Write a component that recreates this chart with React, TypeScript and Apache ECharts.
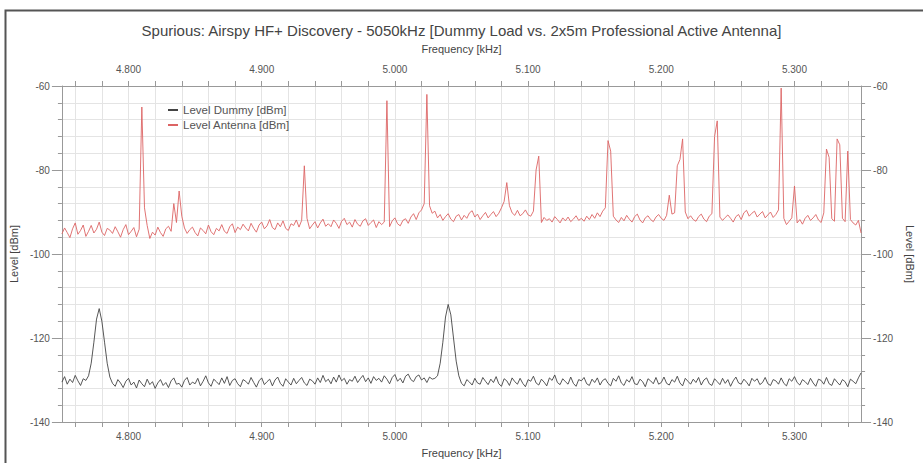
import React, { useEffect, useRef } from "react";
import * as echarts from "echarts";

const titleText = "Spurious: Airspy HF+ Discovery - 5050kHz [Dummy Load vs. 2x5m Professional Active Antenna]";
const xAxisName = "Frequency [kHz]";
const yAxisName = "Level [dBm]";
const seriesNames = ["Level Dummy [dBm]", "Level Antenna [dBm]"];

// frequency grid in MHz (displayed as kHz with thousands separator), 2 kHz step
const freqStart = 4.75;
const freqStep = 0.002;
const freqCount = 301;

const yTicks = [-140, -120, -100, -80, -60];

const antennaLevels = [
  -95.2,-93.8,-94.9,-96.1,-94.0,-92.6,-95.3,-94.4,-93.1,-95.8,
  -94.6,-93.2,-95.0,-94.1,-92.4,-94.8,-95.6,-93.9,-94.3,-95.1,
  -93.5,-94.7,-96.0,-94.2,-93.0,-95.4,-94.6,-93.7,-95.9,-94.1,
  -65.0,-89.0,-93.2,-96.3,-94.8,-95.5,-93.6,-94.9,-95.8,-94.0,
  -93.4,-94.6,-88.0,-92.5,-85.0,-91.0,-93.8,-95.1,-94.2,-93.6,
  -94.9,-95.7,-93.8,-94.4,-95.2,-93.1,-94.7,-95.4,-93.9,-94.5,
  -93.0,-94.6,-95.1,-93.5,-92.8,-94.9,-93.6,-94.2,-92.9,-93.8,
  -94.5,-92.7,-93.9,-94.8,-93.1,-92.4,-94.0,-93.3,-91.8,-93.7,
  -94.2,-92.6,-93.5,-92.1,-93.9,-94.4,-92.8,-93.2,-91.9,-93.6,
  -92.0,-79.0,-91.5,-94.0,-93.1,-92.3,-93.8,-92.6,-91.7,-93.4,
  -92.8,-93.5,-91.9,-92.7,-93.9,-92.2,-91.5,-93.0,-92.4,-93.6,
  -91.8,-92.9,-93.4,-92.1,-91.6,-93.2,-92.5,-91.9,-93.7,-92.3,
  -93.0,-92.4,-63.5,-93.5,-92.1,-91.4,-92.8,-93.3,-92.0,-91.6,
  -92.7,-91.2,-90.4,-91.8,-90.2,-89.5,-88.0,-62.0,-88.5,-90.3,
  -89.8,-91.4,-90.6,-92.0,-91.1,-90.4,-91.7,-92.3,-91.0,-90.6,
  -91.9,-90.8,-91.5,-90.2,-89.7,-91.2,-90.5,-91.8,-90.9,-90.1,
  -91.4,-90.6,-89.9,-91.1,-90.3,-89.0,-87.5,-83.0,-88.5,-90.2,
  -90.8,-89.6,-90.9,-90.4,-89.5,-90.7,-91.0,-89.8,-80.0,-76.7,
  -92.5,-91.3,-92.0,-91.6,-92.4,-91.1,-91.8,-92.6,-91.4,-92.1,
  -91.2,-92.3,-91.7,-90.9,-92.0,-91.5,-92.2,-91.0,-91.8,-90.6,
  -91.5,-90.2,-91.1,-89.8,-89.0,-73.0,-75.5,-91.0,-91.9,-92.5,
  -91.3,-92.1,-90.8,-91.7,-92.4,-91.1,-90.5,-91.9,-92.6,-91.4,
  -90.9,-91.8,-92.3,-91.2,-90.6,-91.5,-92.0,-90.8,-86.0,-90.5,
  -90.2,-79.0,-77.5,-72.6,-90.0,-91.6,-90.9,-91.8,-92.2,-91.1,
  -90.5,-91.7,-92.3,-91.0,-90.4,-72.0,-68.3,-91.2,-92.0,-91.3,
  -90.7,-91.5,-92.4,-91.1,-90.6,-91.8,-90.2,-89.6,-91.0,-90.3,
  -89.8,-91.2,-90.5,-89.9,-91.4,-90.7,-90.0,-91.3,-90.6,-89.5,
  -60.5,-91.5,-93.0,-92.2,-91.4,-83.8,-92.6,-91.8,-92.9,-91.5,
  -90.8,-92.0,-91.4,-90.6,-91.9,-92.5,-90.2,-75.0,-77.0,-91.6,
  -92.2,-72.6,-74.0,-91.5,-92.3,-75.5,-91.8,-92.6,-93.1,-92.0,
  -95.0
];

const dummyLevels = [
  -130.5,-129.2,-131.0,-129.8,-130.6,-128.9,-130.2,-131.3,-129.7,-130.1,
  -129.0,-126.0,-121.0,-115.5,-113.0,-116.0,-121.0,-126.0,-129.3,-130.8,
  -131.5,-129.9,-130.7,-131.8,-130.3,-129.6,-131.2,-130.5,-131.9,-130.0,
  -130.9,-131.6,-129.8,-131.1,-130.4,-132.0,-130.7,-129.9,-131.3,-130.6,
  -131.8,-130.2,-129.5,-131.0,-130.8,-131.7,-130.1,-129.4,-131.2,-130.5,
  -130.9,-129.6,-131.4,-130.3,-129.0,-130.7,-131.5,-129.8,-130.4,-131.1,
  -129.5,-130.8,-129.2,-131.3,-130.1,-129.7,-130.9,-131.6,-129.9,-130.3,
  -131.0,-129.4,-130.6,-131.7,-130.2,-129.5,-131.1,-130.4,-129.8,-131.4,
  -130.0,-129.3,-130.8,-131.5,-129.7,-130.5,-131.2,-129.6,-130.9,-130.1,
  -129.4,-130.7,-131.3,-129.8,-130.2,-131.0,-129.5,-130.6,-128.9,-130.4,
  -129.8,-130.9,-129.3,-130.5,-128.8,-130.2,-129.6,-131.0,-129.9,-130.3,
  -129.1,-130.6,-129.7,-128.9,-130.4,-129.5,-130.8,-129.2,-130.1,-129.6,
  -130.5,-129.0,-129.8,-130.9,-129.4,-128.7,-130.3,-129.6,-130.7,-129.1,
  -128.6,-129.9,-130.4,-129.2,-128.8,-130.0,-129.5,-130.6,-129.3,-129.8,
  -129.6,-129.0,-126.0,-121.0,-115.0,-112.0,-114.5,-120.0,-125.5,-129.0,
  -130.8,-131.4,-129.9,-130.5,-131.2,-129.6,-130.7,-131.0,-129.4,-130.3,
  -131.1,-129.8,-130.6,-129.2,-130.9,-131.5,-129.7,-130.2,-131.3,-129.5,
  -130.4,-131.0,-129.6,-130.8,-131.6,-129.9,-130.3,-129.1,-130.7,-131.2,
  -129.8,-130.5,-131.4,-129.5,-130.1,-128.8,-130.6,-131.1,-129.7,-130.4,
  -131.0,-129.3,-130.8,-131.5,-129.9,-130.2,-129.4,-130.9,-131.3,-129.8,
  -130.6,-129.5,-131.2,-130.1,-129.7,-130.8,-131.4,-129.6,-130.3,-129.0,
  -130.7,-131.3,-129.9,-130.5,-129.2,-130.9,-131.1,-129.8,-130.4,-131.6,
  -129.7,-130.2,-130.9,-129.4,-131.0,-130.6,-129.3,-130.8,-131.2,-129.9,
  -130.5,-129.1,-130.7,-131.4,-129.6,-130.3,-131.0,-129.8,-130.6,-129.4,
  -131.2,-130.0,-129.5,-130.9,-131.3,-129.7,-130.4,-131.1,-129.6,-130.8,
  -129.9,-131.5,-130.2,-129.3,-130.7,-131.0,-129.8,-130.5,-131.4,-129.6,
  -130.3,-129.7,-131.1,-130.6,-129.4,-130.9,-131.3,-129.9,-130.2,-131.0,
  -129.5,-130.8,-131.4,-129.7,-130.3,-129.2,-130.6,-131.2,-129.9,-130.4,
  -131.1,-129.6,-130.7,-131.5,-129.8,-130.1,-131.0,-129.4,-130.9,-131.3,
  -129.7,-130.5,-131.2,-129.9,-130.4,-131.6,-129.8,-130.3,-130.9,-129.5,
  -128.3
];

const FONT = "Liberation Sans, Arial, sans-serif";

export default function App() {
  const ref = useRef<HTMLDivElement>(null);
  useEffect(() => {
    if (!ref.current) return;
    const chart = echarts.init(ref.current, null, { renderer: "svg" });
    const categories: string[] = [];
    for (let i = 0; i < freqCount; i++) categories.push((freqStart + i * freqStep).toFixed(3));
    const gridIdx = (i: number) => i % 10 === 5; // every 20 kHz (4.760, 4.780 ...)
    const labelIdx = (i: number) => i % 50 === 25; // every 100 kHz (4.800 ...)
    const xCommon = (pos: "top" | "bottom", grid: boolean) => ({
      type: "category",
      position: pos,
      data: categories,
      boundaryGap: false,
      name: xAxisName,
      nameLocation: "middle",
      nameGap: pos === "bottom" ? 25 : 32,
      nameTextStyle: { fontFamily: FONT, fontSize: 11, color: "#444" },
      axisLine: { show: true, lineStyle: { color: "#999", width: 1 } },
      axisTick: { show: true, inside: false, length: 5, interval: (i: number) => gridIdx(i), lineStyle: { color: "#999" } },
      axisLabel: {
        show: true,
        interval: (i: number) => labelIdx(i),
        margin: pos === "bottom" ? 9 : 12,
        fontFamily: FONT,
        fontSize: 10,
        color: "#555",
      },
      splitLine: { show: grid, interval: (i: number) => gridIdx(i), lineStyle: { color: "#e4e4e4", width: 1 } },
    });
    const yCommon = (pos: "left" | "right", grid: boolean) => ({
      type: "value",
      position: pos,
      min: yTicks[0],
      max: yTicks[yTicks.length - 1],
      interval: 20,
      name: yAxisName,
      nameLocation: "middle",
      nameGap: 36,
      nameRotate: pos === "left" ? 90 : -90,
      nameTextStyle: { fontFamily: FONT, fontSize: 11, color: "#444" },
      axisLine: { show: true, lineStyle: { color: "#999", width: 1 } },
      axisTick: { show: true, inside: false, length: 10, lineStyle: { color: "#999" } },
      minorTick: { show: true, splitNumber: 5, length: 4, lineStyle: { color: "#999" } },
      axisLabel: { show: true, margin: 12, fontFamily: FONT, fontSize: 10, color: "#555" },
      splitLine: { show: grid, lineStyle: { color: "#e4e4e4", width: 1 } },
      minorSplitLine: { show: grid, lineStyle: { color: "#e4e4e4", width: 1 } },
    });
    chart.setOption({
      animation: false,
      backgroundColor: "#ffffff",
      textStyle: { fontFamily: FONT },
      title: {
        text: titleText,
        left: "center",
        top: 18,
        textStyle: { fontFamily: FONT, fontSize: 15, fontWeight: "normal", color: "#444" },
      },
      graphic: [
        {
          type: "rect",
          left: 3,
          top: 8,
          shape: { width: 1000, height: 1000 },
          style: { fill: "none", stroke: "#555", lineWidth: 2 },
          silent: true,
        },
      ],
      legend: {
        left: 163,
        top: 99,
        orient: "vertical",
        itemGap: 3,
        itemWidth: 10,
        itemHeight: 2,
        icon: "rect",
        textStyle: { fontFamily: FONT, fontSize: 11.5, color: "#555" },
        data: seriesNames,
      },
      grid: { left: 57, right: 52, top: 86, bottom: 40, containLabel: false },
      xAxis: [xCommon("bottom", true), xCommon("top", false)],
      yAxis: [yCommon("left", true), yCommon("right", false)],
      series: [
        {
          name: seriesNames[0],
          type: "line",
          data: dummyLevels,
          showSymbol: false,
          symbol: "none",
          color: "#444444",
          lineStyle: { color: "#444444", width: 0.9 },
        },
        {
          name: seriesNames[1],
          type: "line",
          data: antennaLevels,
          showSymbol: false,
          symbol: "none",
          color: "#dc6464",
          lineStyle: { color: "#dc6464", width: 0.9 },
        },
      ],
    });
    return () => chart.dispose();
  }, []);
  return (
    <div
      ref={ref}
      style={{ position: "fixed", left: 0, top: 0, width: 923, height: 463, background: "#fff" }}
    />
  );
}
